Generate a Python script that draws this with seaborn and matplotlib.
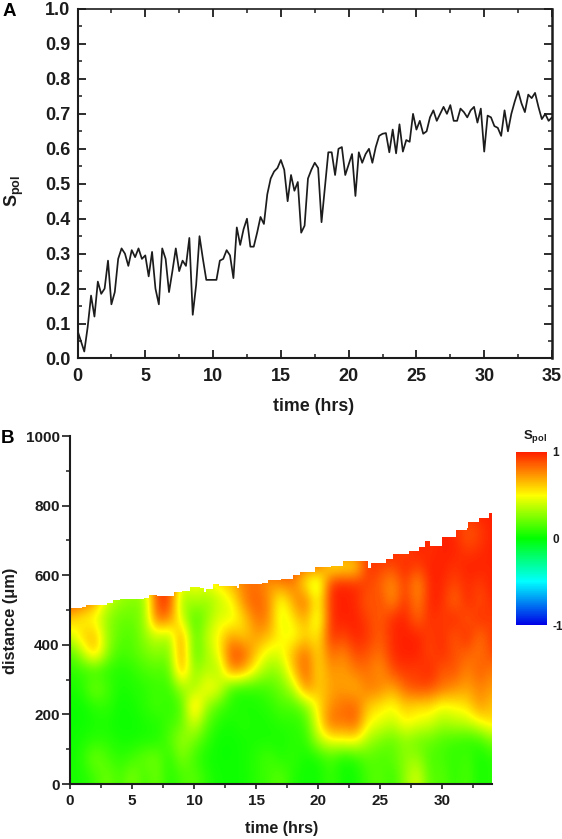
import numpy as np
import pandas as pd
import matplotlib
matplotlib.use("Agg")
import matplotlib.pyplot as plt
from matplotlib.colors import LinearSegmentedColormap
from matplotlib.ticker import MultipleLocator
import seaborn as sns

# ---- Panel A: order parameter, one reading every 0.25 h
sample_step_hrs = 0.25
spol_0_to_10 = [.08,.05,.02,.09,.18,.12,.22,.185,.20,.28,.155,.19,.285,.315,.30,.265,.31,.29,.315,.285,
                .295,.235,.305,.20,.155,.315,.285,.19,.25,.315,.25,.28,.265,.345,.125,.21,.35,.285,.225,.225]
spol_10_to_20 = [.225,.225,.28,.285,.31,.295,.23,.375,.325,.37,.40,.32,.32,.36,.405,.385,.47,.515,.535,.545,
                 .568,.54,.45,.525,.48,.505,.36,.38,.515,.54,.56,.545,.39,.49,.59,.59,.525,.60,.605,.525]
spol_20_to_30 = [.555,.585,.465,.59,.56,.585,.60,.56,.605,.637,.643,.645,.59,.655,.587,.67,.592,.625,.62,.70,
                 .655,.68,.643,.65,.69,.71,.68,.70,.72,.70,.725,.68,.68,.715,.705,.69,.71,.72,.675,.715]
spol_30_to_35 = [.592,.695,.69,.665,.66,.637,.71,.65,.70,.735,.765,.73,.705,.755,.745,.76,.72,.685,.70,.68,.69]

# ---- Panel B: S_pol x 100, columns t = 0..34 h, one list per distance band
d_0025 = [5,5,12,22,12, 25,12,22,6,14, 18,8,3,3,3, 8,12,18,6,3, 3,12,3,3,14, 18,10,28,45,15, 18,8,16,3,8]
d_0075 = [3,8,24,14,8, 12,20,22,6,26, 12,4,2,2,4, 8,14,6,10,3, 5,14,3,8,18, 14,18,28,30,14, 14,8,14,3,8]
d_0125 = [2,5,8,8,4, 4,5,6,15,32, 22,10,2,2,4, 5,5,4,8,8, 35,48,50,52,32, 24,18,28,20,20, 14,12,8,10,24]
d_0175 = [2,2,5,5,2, 2,5,6,12,18, 45,18,6,4,8, 4,5,8,8,12, 50,85,80,88,50, 45,38,52,46,42, 32,36,38,48,58]
d_0225 = [2,2,8,10,2, 4,8,14,8,14, 68,30,15,8,4, 5,8,15,14,25, 55,75,82,85,62, 55,48,62,56,58, 46,52,55,75,62]
d_0275 = [4,8,25,14,4, 6,8,12,10,32, 30,52,48,10,8, 10,14,22,35,80, 60,70,72,65,80, 78,68,85,92,90, 82,75,70,78,72]
d_0325 = [8,10,10,8,6, 8,14,16,15,75, 25,38,30,78,70, 45,28,30,62,88, 55,75,70,80,82, 72,90,95,92,100, 85,90,75,88,78]
d_0375 = [15,35,66,28,12, 16,22,28,22,80, 14,32,48,92,88, 62,42,45,68,85, 55,85,75,92,88, 80,98,100,100,90, 98,88,85,80,92]
d_0425 = [40,60,68,30,18, 15,28,40,30,78, 14,38,52,72,58, 72,66,50,45,60, 50,98,90,100,95, 85,98,100,100,92, 98,85,100,80,95]
d_0475 = [62,50,45,28,20, 20,28,85,80,42, 12,28,45,42,58, 82,78,40,55,72, 35,98,100,100,92, 85,98,100,82,98, 92,100,85,98,92]
d_0525 = [92,88,72,40,30, 25,25,92,95,28, 35,28,38,48,78, 88,78,42,72,85, 45,98,100,98,85, 92,72,98,75,100, 98,80,100,88,98]
d_0575 = [95,95,92,45,35, 35,40,92,95,40, 50,45,55,65,78, 82,70,78,80,50, 30,98,100,98,92, 85,72,95,70,100, 98,90,98,92,100]
d_0625 = [95,95,95,50,40, 40,50,95,95,60, 60,60,70,80,85, 90,90,95,90,80, 85,45,50,50,98, 92,90,100,92,100, 100,95,100,100,98]
d_0675 = [95,95,95,95,95, 95,95,95,95,95, 95,95,95,95,95, 95,95,95,95,95, 95,95,95,95,95, 98,100,88,100,95, 100,100,92,96,100]
d_0725 = [95,95,95,95,95, 95,95,95,95,95, 95,95,95,95,95, 95,95,95,95,95, 95,95,95,95,95, 98,98,98,98,98, 100,98,85,92,100]
d_0775 = [95,95,95,95,95, 95,95,95,95,95, 95,95,95,95,95, 95,95,95,95,95, 95,95,95,95,95, 98,98,98,98,98, 98,98,98,100,100]
distance_bands = [d_0025,d_0075,d_0125,d_0175,d_0225,d_0275,d_0325,d_0375,
                  d_0425,d_0475,d_0525,d_0575,d_0625,d_0675,d_0725,d_0775]

# Upper edge of the monolayer (time h, distance um)
edge_time = [0,1,1.3,3,3.5,4,6,6.4,7,8.3,8.4,9,9.7,10.5,10.8,11,11.5,12,13,13.5,13.6,15.5,16,17,18,18.5,
             19.75,20.5,21,22,23.4,24.05,24.3,25.5,26,27.3,28.1,28.6,29,29.6,30,30.8,31.1,32,32.1,33,33.8,34]
edge_dist = [505,510,515,520,528,532,535,542,540,540,553,555,566,562,553,560,575,568,568,562,575,578,585,590,600,610,
             625,625,627,640,640,622,635,647,660,670,682,697,685,685,711,711,730,737,754,765,779,780]

sns.set_theme(style="ticks")
plt.rcParams["font.family"] = ["Liberation Sans", "DejaVu Sans"]
plt.rcParams["font.weight"] = "bold"
plt.rcParams["mathtext.fontset"] = "custom"
plt.rcParams["mathtext.rm"] = "Liberation Sans:bold"
plt.rcParams["mathtext.bf"] = "Liberation Sans:bold"
plt.rcParams["mathtext.default"] = "rm"

W, H = 562, 839
INK = "#1c1c1c"
fig = plt.figure(figsize=(W / 100, H / 100), dpi=100, facecolor="white")

def axes_px(x0, y0, x1, y1):
    return fig.add_axes([x0 / W, 1 - y1 / H, (x1 - x0) / W, (y1 - y0) / H])

def text_px(x, y, s, **kw):
    kw.setdefault("color", INK)
    kw.setdefault("ha", "center")
    kw.setdefault("va", "center")
    fig.text(x / W, 1 - y / H, s, **kw)

# Panel A
spol = spol_0_to_10 + spol_10_to_20 + spol_20_to_30 + spol_30_to_35
df = pd.DataFrame({"time": np.arange(len(spol)) * sample_step_hrs, "spol": spol})
axA = axes_px(77.5, 9, 552, 358.5)
sns.lineplot(data=df, x="time", y="spol", ax=axA, color=INK, lw=1.25, estimator=None, errorbar=None)
axA.set_xlim(0, 35)
axA.set_ylim(0, 1)
axA.set_xlabel("")
axA.set_ylabel("")
axA.xaxis.set_major_locator(MultipleLocator(5))
axA.xaxis.set_minor_locator(MultipleLocator(2.5))
axA.yaxis.set_major_locator(MultipleLocator(0.1))
axA.yaxis.set_minor_locator(MultipleLocator(0.05))
axA.tick_params(which="major", direction="in", length=6, width=1.3, top=True, right=True,
                labelsize=13, colors=INK, pad=5)
axA.tick_params(which="minor", direction="in", length=3, width=1.1, top=True, right=True, colors=INK)
axA.tick_params(axis="x", which="major", pad=7)
for s in axA.spines.values():
    s.set_linewidth(1.5)
    s.set_color(INK)
axA.spines["top"].set_linewidth(1.2)
axA.spines["right"].set_linewidth(1.8)

# Panel B
cmap = LinearSegmentedColormap.from_list(
    "spol", ["#0000e6", "#00ffff", "#00ff00", "#ffff00", "#ff2000"], N=256)
grid = np.array(distance_bands, dtype=float) / 100
axB = axes_px(70, 436, 491.8, 784)
im = axB.imshow(grid, origin="lower", extent=[-0.5, 34.5, 0, 800], aspect="auto", cmap=cmap,
                vmin=-1, vmax=1, interpolation="bicubic")
outline = axB.fill_between(edge_time, 0, edge_dist, step="post", facecolor="none", edgecolor="none")
im.set_clip_path(outline.get_paths()[0], axB.transData)
axB.set_xlim(0, 34)
axB.set_ylim(0, 1000)
axB.xaxis.set_major_locator(MultipleLocator(5))
axB.xaxis.set_minor_locator(MultipleLocator(2.5))
axB.yaxis.set_major_locator(MultipleLocator(200))
axB.yaxis.set_minor_locator(MultipleLocator(100))
axB.tick_params(axis="y", which="major", direction="out", length=5.5, width=1.2, labelsize=11, colors=INK, pad=2)
axB.tick_params(axis="y", which="minor", direction="out", length=3, width=1.1, colors=INK)
axB.tick_params(axis="x", which="major", direction="out", length=3.5, width=1.2, labelsize=11, colors=INK, pad=3.5)
axB.tick_params(axis="x", which="minor", direction="out", length=3, width=1.1, colors=INK)
sns.despine(ax=axB)
for side in ("left", "bottom"):
    axB.spines[side].set_linewidth(1.5)
    axB.spines[side].set_color(INK)
    axB.spines[side].set_zorder(5)

# Colour bar
cax = axes_px(515.5, 452, 547, 625)
cb = fig.colorbar(im, cax=cax, ticks=[-1, 0, 1])
cb.outline.set_visible(False)
cb.ax.set_yticklabels(["-1", "0", "1"])
cb.ax.tick_params(length=0, labelsize=8.5, colors=INK, pad=4)

# Text
text_px(314, 407, "time (hrs)", fontsize=12.8)
text_px(14, 191, r"S$_{\mathrm{pol}}$", fontsize=13, rotation=90)
text_px(9, 12, "A", fontsize=13.5, color="black")
text_px(8, 438, "B", fontsize=13.5, color="black")
text_px(11, 621, "distance (\u03bcm)", fontsize=11.8, rotation=90)
text_px(282, 829, "time (hrs)", fontsize=11.6)
text_px(535, 436, r"S$_{\mathrm{pol}}$", fontsize=9.5)

fig.savefig("out.png", dpi=100, facecolor="white")
